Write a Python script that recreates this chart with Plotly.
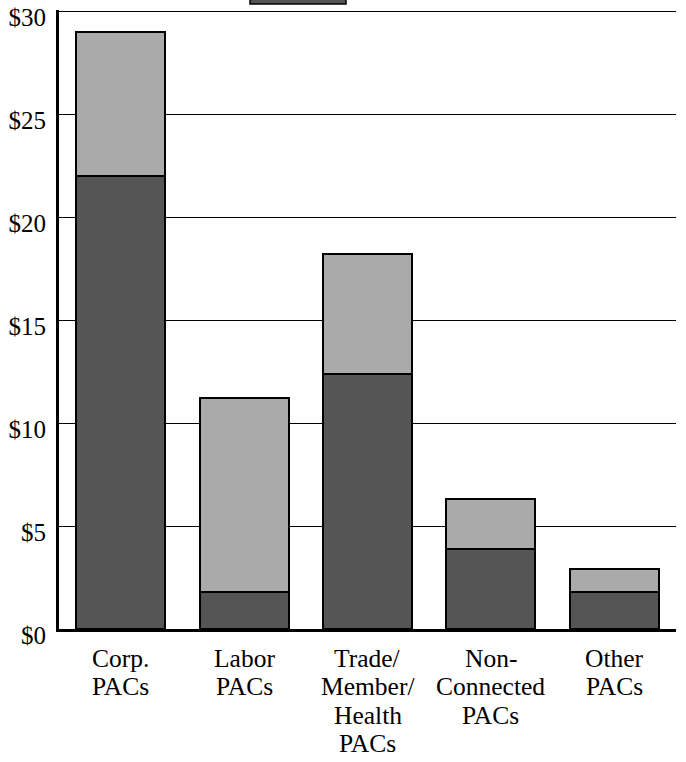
import plotly.graph_objects as go

# PAC contributions by PAC type (millions of dollars)
categories = ["Corp. PACs", "Labor PACs", "Trade/Member/Health PACs", "Non-Connected PACs", "Other PACs"]
label_lines = [
    ["Corp.", "PACs"],
    ["Labor", "PACs"],
    ["Trade/", "Member/", "Health", "PACs"],
    ["Non-", "Connected", "PACs"],
    ["Other", "PACs"],
]
lower_values = [22.0, 1.8, 12.4, 3.9, 1.8]
upper_values = [7.0, 9.4, 5.8, 2.4, 1.1]
tick_values = [0, 5, 10, 15, 20, 25, 30]
tick_labels = ["$0", "$5", "$10", "$15", "$20", "$25", "$30"]

FONT = "Liberation Serif, Times New Roman, serif"
DARK = "#555555"
LIGHT = "#aaaaaa"

Y_MAX = 30.06  # a little headroom so the $30 gridline is drawn

fig = go.Figure()
fig.add_trace(go.Bar(
    x=categories, y=lower_values, name="lower",
    marker=dict(color=DARK, line=dict(color="black", width=2)),
    showlegend=False, hoverinfo="x+y",
))
fig.add_trace(go.Bar(
    x=categories, y=upper_values, name="upper",
    marker=dict(color=LIGHT, line=dict(color="black", width=2)),
    showlegend=False, hoverinfo="x+y",
))

# multi-line category labels under each bar
line_gap = 28.5
first_offset = 29
annotations = []
for cat, lines in zip(categories, label_lines):
    for i, txt in enumerate(lines):
        annotations.append(dict(
            x=cat, xref="x", y=0, yref="paper",
            text=txt, showarrow=False,
            xanchor="center", yanchor="middle",
            yshift=-(first_offset + i * line_gap),
            font=dict(family=FONT, size=25.5, color="black"),
        ))

# plot area in pixels
plot_left, plot_w = 59, 617
plot_top, plot_bottom = 10, 629
plot_h = plot_bottom - plot_top

# legend box peeking in above the plot
shapes = [dict(
    type="rect", xref="paper", yref="paper",
    x0=(250 - plot_left) / plot_w, x1=(346 - plot_left) / plot_w,
    y0=(plot_bottom - 4) / plot_h, y1=(plot_bottom + 20) / plot_h,
    fillcolor=DARK, line=dict(color="black", width=1.5), layer="above",
)]

fig.update_layout(
    width=686, height=762,
    margin=dict(l=plot_left, r=686 - plot_left - plot_w, t=plot_top, b=762 - plot_bottom),
    barmode="stack", bargap=0.279,
    plot_bgcolor="white", paper_bgcolor="white",
    font=dict(family=FONT, size=25, color="black"),
    annotations=annotations, shapes=shapes,
    xaxis=dict(
        showticklabels=False, showgrid=False, ticks="",
        showline=True, linecolor="black", linewidth=3,
        automargin=False, fixedrange=True,
    ),
    yaxis=dict(
        range=[0, Y_MAX], tickvals=tick_values, ticktext=tick_labels,
        showgrid=True, gridcolor="black", gridwidth=1,
        zeroline=False, ticks="",
        showline=True, linecolor="black", linewidth=3,
        ticklabelstandoff=5, ticklabelshift=6,
        tickfont=dict(family=FONT, size=25, color="black"),
        automargin=False, fixedrange=True,
    ),
)

fig.write_html("out.html")
